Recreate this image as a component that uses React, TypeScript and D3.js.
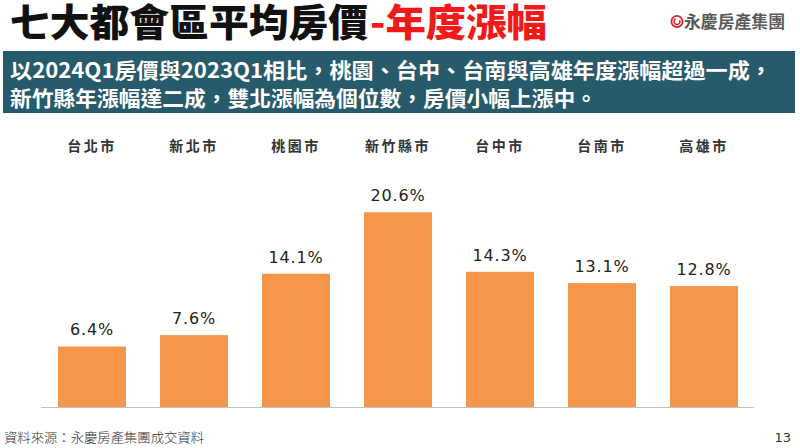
import React from "react";
import * as d3 from "d3";

const categories = ["台北市", "新北市", "桃園市", "新竹縣市", "台中市", "台南市", "高雄市"];
const values = [6.4, 7.6, 14.1, 20.6, 14.3, 13.1, 12.8];
const titleBlack = "七大都會區平均房價";
const titleRed = "-年度漲幅";
const subtitleLines = [
  "以2024Q1房價與2023Q1相比，桃園、台中、台南與高雄年度漲幅超過一成，",
  "新竹縣年漲幅達二成，雙北漲幅為個位數，房價小幅上漲中。",
];
const sourceText = "資料來源：永慶房產集團成交資料";
const pageNumber = "13";
const logoText = "永慶房產集團";

const W = 800;
const H = 448;
const CJK = "'Noto Sans CJK TC', 'Noto Sans CJK SC', sans-serif";
const NUM = "'DejaVu Sans', Verdana, sans-serif";

export default function App() {
  const x = d3
    .scaleBand<string>()
    .domain(categories)
    .range([41, 755])
    .paddingInner(1 / 3)
    .paddingOuter(1 / 6);
  const y = d3.scaleLinear().domain([0, 22]).range([407, 199]);

  const logoArc = d3.arc()({
    innerRadius: 2.2,
    outerRadius: 3.6,
    startAngle: Math.PI * 0.35,
    endAngle: Math.PI * 1.85,
  } as any) as string;

  return (
    <svg
      width={W}
      height={H}
      style={{ position: "absolute", left: 0, top: 0, background: "#fff" }}
    >
      {/* Title */}
      <text x={10} y={36} fontFamily={CJK} fontWeight={900} fontSize={38}>
        <tspan fill="#111" textLength={358} lengthAdjust="spacingAndGlyphs">
          {titleBlack}
        </tspan>
        <tspan fill="#f01a1a" x={370} textLength={177} lengthAdjust="spacingAndGlyphs">
          {titleRed}
        </tspan>
      </text>

      {/* Logo */}
      <g>
        <circle cx={677} cy={21.5} r={5.6} fill="none" stroke="#d9262c" strokeWidth={1.8} />
        <path d={logoArc} transform="translate(677,21.5)" fill="#d9262c" />
        <text
          x={684}
          y={28}
          fontFamily={CJK}
          fontWeight={700}
          fontSize={17}
          fill="#5a5a5a"
          textLength={101}
          lengthAdjust="spacingAndGlyphs"
        >
          {logoText}
        </text>
      </g>

      {/* Subtitle band */}
      <rect x={3} y={51} width={792} height={62} fill="#275a6a" />
      {subtitleLines.map((line, i) => (
        <text
          key={i}
          x={10}
          y={78 + i * 28}
          fontFamily={CJK}
          fontWeight={700}
          fontSize={21}
          fill="#ffffff"
          textLength={i === 0 ? 762 : 587}
          lengthAdjust="spacingAndGlyphs"
        >
          {line}
        </text>
      ))}

      {/* Category labels */}
      {categories.map((c) => (
        <text
          key={"c" + c}
          x={(x(c) as number) + x.bandwidth() / 2}
          y={151}
          textAnchor="middle"
          fontFamily={CJK}
          fontWeight={700}
          fontSize={14}
          letterSpacing={2.5}
          fill="#333"
        >
          {c}
        </text>
      ))}

      {/* Bars */}
      {categories.map((c, i) => (
        <rect
          key={"b" + c}
          x={x(c) as number}
          y={y(values[i])}
          width={x.bandwidth()}
          height={y(0) - y(values[i])}
          fill="#f5964a"
        />
      ))}

      {/* Value labels */}
      {categories.map((c, i) => (
        <text
          key={"v" + c}
          x={(x(c) as number) + x.bandwidth() / 2}
          y={y(values[i]) - 11}
          textAnchor="middle"
          fontFamily={NUM}
          fontSize={16}
          letterSpacing={0.8}
          fill="#222"
        >
          {values[i].toFixed(1) + "%"}
        </text>
      ))}

      {/* Baseline */}
      <line x1={41} x2={754} y1={y(0) + 0.5} y2={y(0) + 0.5} stroke="#c0c0c0" strokeWidth={1} />

      {/* Footer */}
      <text x={4} y={442} fontFamily={CJK} fontWeight={300} fontSize={13} fill="#333" textLength={200} lengthAdjust="spacingAndGlyphs">
        {sourceText}
      </text>
      <text x={791} y={442} textAnchor="end" fontFamily={NUM} fontSize={13} fill="#333">
        {pageNumber}
      </text>
    </svg>
  );
}
